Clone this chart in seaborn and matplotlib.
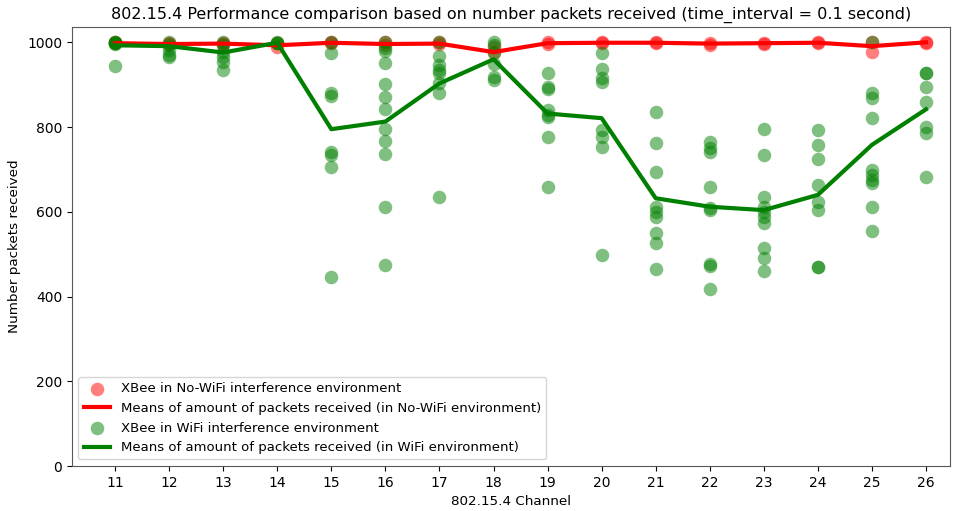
import matplotlib
matplotlib.use("Agg")
import matplotlib.pyplot as plt
import seaborn as sns
import pandas as pd

channels = list(range(11, 27))

# packets received per run, no-WiFi environment
nowifi_points = [
    [1000, 998], [998, 995], [999, 996], [999, 988], [1000, 998], [1000, 994],
    [1000, 996], [990, 978], [1000, 997], [1000, 998], [1000, 998], [998, 993],
    [999, 997], [1000, 998], [1000, 978], [1000, 999],
]

# packets received per run, WiFi environment
wifi_points = [
    [1000, 1000, 999, 998, 995, 944],
    [1000, 994, 982, 970, 966],
    [1000, 994, 978, 966, 954, 935],
    [1000, 999, 998],
    [1000, 974, 880, 874, 742, 734, 706, 447],
    [1000, 986, 980, 952, 902, 870, 843, 795, 767, 736, 612, 474],
    [1000, 968, 946, 935, 927, 903, 880, 636],
    [1000, 994, 974, 950, 919, 911],
    [928, 895, 889, 840, 828, 823, 776, 659],
    [975, 938, 915, 907, 793, 777, 754, 498],
    [836, 763, 695, 612, 600, 588, 549, 526, 464],
    [765, 750, 742, 659, 608, 604, 478, 471, 419],
    [795, 734, 636, 612, 600, 588, 573, 514, 490, 461],
    [793, 758, 724, 663, 624, 604, 470, 470],
    [1000, 880, 868, 821, 699, 687, 675, 667, 612, 555],
    [928, 928, 895, 860, 801, 785, 683],
]

nowifi_means = [998, 996, 997, 993, 999, 996, 997, 977, 998, 999, 999, 997, 998, 999, 991, 1000]
wifi_means = [993, 991, 976, 999, 795, 813, 903, 960, 832, 821, 632, 612, 604, 640, 758, 842]

df_nowifi = pd.DataFrame([(c, v) for c, vals in zip(channels, nowifi_points) for v in vals],
                         columns=["channel", "packets"])
df_wifi = pd.DataFrame([(c, v) for c, vals in zip(channels, wifi_points) for v in vals],
                       columns=["channel", "packets"])
df_means = pd.DataFrame({"channel": channels, "nowifi": nowifi_means, "wifi": wifi_means})

fig, ax = plt.subplots(figsize=(9.58, 5.11), dpi=100)

sns.scatterplot(data=df_nowifi, x="channel", y="packets", color="red", alpha=0.5, s=95,
                edgecolor=None, linewidth=0, ax=ax, label="XBee in No-WiFi interference environment")
sns.lineplot(data=df_means, x="channel", y="nowifi", color="red", linewidth=3, ax=ax,
             label="Means of amount of packets received (in No-WiFi environment)")
sns.scatterplot(data=df_wifi, x="channel", y="packets", color="green", alpha=0.5, s=95,
                edgecolor=None, linewidth=0, ax=ax, label="XBee in WiFi interference environment")
sns.lineplot(data=df_means, x="channel", y="wifi", color="green", linewidth=3, ax=ax,
             label="Means of amount of packets received (in WiFi environment)")

ax.set_xticks(channels)
ax.set_xlim(10.2, 26.45)
ax.set_ylim(0, 1036)
ax.set_yticks([0, 200, 400, 600, 800, 1000])
ax.set_title("802.15.4 Performance comparison based on number packets received (time_interval = 0.1 second)",
             fontsize=11.5)
ax.set_xlabel("802.15.4 Channel", fontsize=9.7)
ax.set_ylabel("Number packets received", fontsize=9.7)
ax.tick_params(labelsize=10)
for sp in ax.spines.values():
    sp.set_color("0.35")
ax.legend(loc="lower left", fontsize=9.5)

plt.subplots_adjust(left=0.075, right=0.992, top=0.947, bottom=0.088)
plt.savefig("out.png", dpi=100)
